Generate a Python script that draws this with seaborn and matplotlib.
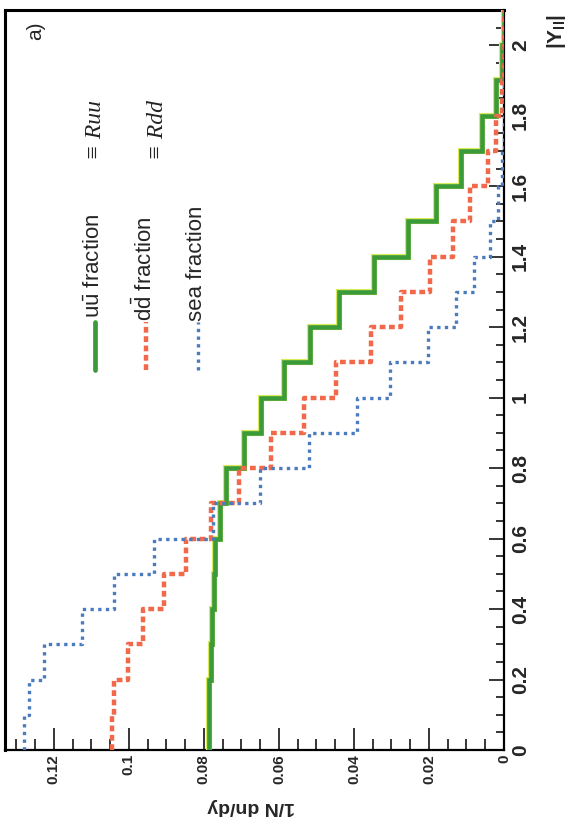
import numpy as np
import pandas as pd
import seaborn as sns
import matplotlib.pyplot as plt
from matplotlib import font_manager
from matplotlib.ticker import MultipleLocator, FixedLocator, FixedFormatter

# |Y_ll| bins (0 .. 2.1, width 0.1)
y_edges = [round(0.1 * i, 1) for i in range(22)]

# 1/N dn/dy per bin
uu_frac = [0.0787, 0.0785, 0.0780, 0.0777, 0.0774, 0.0770, 0.0757, 0.0740, 0.0692, 0.0648,
           0.0587, 0.0516, 0.0440, 0.0347, 0.0257, 0.0180, 0.0114, 0.0058, 0.0020, 0.0004, 0.0]
dd_frac = [0.1045, 0.1040, 0.1003, 0.0963, 0.0906, 0.0848, 0.0781, 0.0705, 0.0622, 0.0532,
           0.0447, 0.0354, 0.0274, 0.0198, 0.0136, 0.0090, 0.0043, 0.0020, 0.0006, 0.0001, 0.0]
sea_frac = [0.1280, 0.1265, 0.1227, 0.1124, 0.1040, 0.0933, 0.0775, 0.0650, 0.0521, 0.0393,
            0.0305, 0.0203, 0.0127, 0.0080, 0.0036, 0.0016, 0.0006, 0.0001, 0.0, 0.0, 0.0]

val_ticks = [0, 0.02, 0.04, 0.06, 0.08, 0.1, 0.12]
val_labels = ['0', '0.02', '0.04', '0.06', '0.08', '0.1', '0.12']
y_ticks = [0, 0.2, 0.4, 0.6, 0.8, 1.0, 1.2, 1.4, 1.6, 1.8, 2.0]
y_labels = ['0', '0.2', '0.4', '0.6', '0.8', '1', '1.2', '1.4', '1.6', '1.8', '2']

sns.set_theme(style='white')
avail = {f.name for f in font_manager.fontManager.ttflist}
tick_font = 'Liberation Sans Narrow' if 'Liberation Sans Narrow' in avail else 'Liberation Sans'
plt.rcParams['font.family'] = ['Liberation Sans', 'DejaVu Sans']
plt.rcParams['mathtext.fontset'] = 'custom'
plt.rcParams['mathtext.rm'] = 'Liberation Sans'
plt.rcParams['mathtext.bf'] = 'Liberation Sans:bold'
plt.rcParams['mathtext.it'] = 'Liberation Sans:italic'

W, H = 571, 830
fig = plt.figure(figsize=(W / 100, H / 100), dpi=100)
fig.patch.set_facecolor('white')


def fx(px):
    return px / W


def fy(py):
    return 1 - py / H


ax = fig.add_axes([fx(5), fy(750), fx(504) - fx(5), fy(10) - fy(750)])


def step_frame(vals):
    # histogram outline, turned on its side: value on x, |Y| on y
    xs, ys = [], []
    for i, v in enumerate(vals):
        xs += [v, v]
        ys += [y_edges[i], y_edges[i + 1]]
    return pd.DataFrame({'val': xs, 'rap': ys})


df_uu = step_frame(uu_frac)
df_dd = step_frame(dd_frac)
df_sea = step_frame(sea_frac)

c_uu, c_dd, c_sea = '#3b9a3a', '#f1694a', '#4a7bbf'

sns.lineplot(data=df_uu, x='val', y='rap', sort=False, estimator=None, ax=ax,
             color='#d9ea5a', lw=4.4, solid_joinstyle='miter', zorder=3)
sns.lineplot(data=df_uu, x='val', y='rap', sort=False, estimator=None, ax=ax,
             color=c_uu, lw=3.3, solid_joinstyle='miter', zorder=4)
sns.lineplot(data=df_dd, x='val', y='rap', sort=False, estimator=None, ax=ax,
             color=c_dd, lw=3.2, linestyle=(0, (1.3, 0.8)), dash_capstyle='butt', zorder=5)
sns.lineplot(data=df_sea, x='val', y='rap', sort=False, estimator=None, ax=ax,
             color=c_sea, lw=2.4, linestyle=(0, (1.0, 1.3)), dash_capstyle='butt', zorder=6)

ax.set_xlim(0.133, 0)
ax.set_ylim(0, 2.1)
ax.set_xlabel('')
ax.set_ylabel('')

ax.xaxis.set_major_locator(FixedLocator(val_ticks))
ax.xaxis.set_major_formatter(FixedFormatter(val_labels))
ax.xaxis.set_minor_locator(MultipleLocator(0.005))
ax.yaxis.tick_right()
ax.yaxis.set_major_locator(FixedLocator(y_ticks))
ax.yaxis.set_major_formatter(FixedFormatter(y_labels))
ax.yaxis.set_minor_locator(MultipleLocator(0.05))

ax.tick_params(axis='x', which='major', direction='in', length=16, width=1.3,
               pad=3, labelsize=11, labelrotation=90, bottom=True, top=False)
ax.tick_params(axis='x', which='minor', direction='in', length=8, width=1.3,
               bottom=True, top=False)
ax.tick_params(axis='y', which='major', direction='in', length=11, width=1.3,
               pad=5, labelsize=15, labelrotation=90, right=True, left=False)
ax.tick_params(axis='y', which='minor', direction='in', length=5.5, width=1.3,
               right=True, left=False)
for lab in ax.get_xticklabels():
    lab.set_fontweight('bold')
    lab.set_family(tick_font)
for lab in ax.get_yticklabels():
    lab.set_fontweight('bold')
    lab.set_family(tick_font)
    lab.set_va('center')

for side, lw in (('left', 2.2), ('top', 2.2), ('right', 1.6), ('bottom', 1.6)):
    ax.spines[side].set_visible(True)
    ax.spines[side].set_color('black')
    ax.spines[side].set_linewidth(lw)

# legend drawn by hand, turned like the rest of the page
for x0, col, lw, ls in ((95, c_uu, 3.4, '-'), (146, c_dd, 3.2, (0, (1.3, 0.8))),
                        (198, c_sea, 2.4, (0, (1.0, 1.3)))):
    fig.add_artist(plt.Line2D([fx(x0), fx(x0)], [fy(370), fy(322)], color=col, lw=lw,
                              linestyle=ls, dash_capstyle='butt'))

leg_kw = dict(rotation=90, rotation_mode='anchor', ha='left', va='baseline', fontsize=16)
fig.text(fx(100), fy(318), r'$\mathrm{u\bar{u}}$ fraction', **leg_kw)
fig.text(fx(152), fy(321), r'$\mathrm{d\bar{d}}$ fraction', **leg_kw)
fig.text(fx(202), fy(321), 'sea fraction', **leg_kw)

note_kw = dict(rotation=90, rotation_mode='anchor', ha='left', va='baseline',
               fontsize=17, family='Liberation Serif', style='italic', color='#222222')
fig.text(fx(101), fy(160), '\u2261 Ruu', **note_kw)
fig.text(fx(163), fy(160), '\u2261 Rdd', **note_kw)

fig.text(fx(36), fy(31), 'a)', rotation=90, ha='center', va='center', fontsize=15)
fig.text(fx(557), fy(32), r'$\mathbf{|Y_{ll}|}$', rotation=90, ha='center', va='center',
         fontsize=15)
fig.text(fx(251), fy(806), '1/N dn/dy', rotation=180, ha='center', va='center',
         fontsize=14, fontweight='bold', family=tick_font)

fig.savefig('out.png', dpi=100, facecolor='white')
